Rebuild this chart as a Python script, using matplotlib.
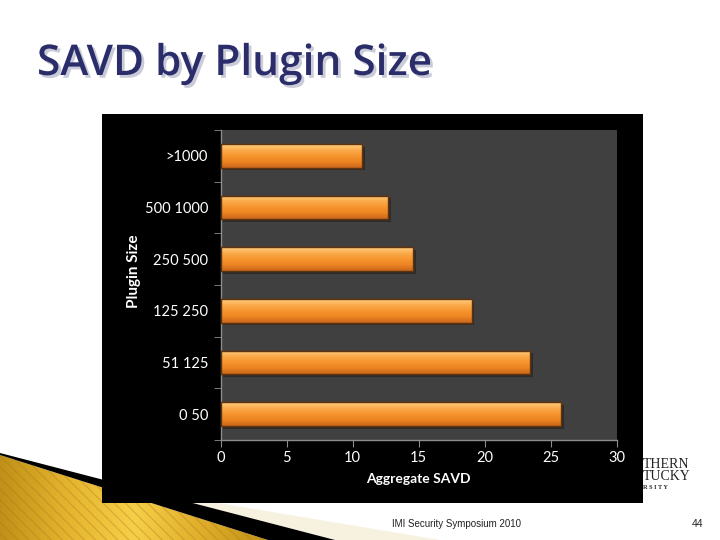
import matplotlib
matplotlib.use("Agg")
import matplotlib.pyplot as plt
import matplotlib.patheffects as pe
import numpy as np
from matplotlib.colors import LinearSegmentedColormap
from matplotlib.patches import Polygon

W, H = 720, 540

TITLE = "SAVD by Plugin Size"
CATEGORIES = ["0 50", "51 125", "125 250", "250 500", "500 1000", ">1000"]
SAVD = [25.8, 23.4, 19.0, 14.6, 12.7, 10.7]
X_TICKS = [0, 5, 10, 15, 20, 25, 30]
LOGO_LINES = ["THERN", "TUCKY", "RSITY"]
FOOTER = "IMI Security Symposium 2010"
PAGE = "44"


def fig_box(x0, y0, x1, y1):
    # pixel box (top-left origin) -> figure fraction rect
    return [x0 / W, 1 - y1 / H, (x1 - x0) / W, (y1 - y0) / H]


fig = plt.figure(figsize=(W / 100, H / 100), dpi=100)
fig.patch.set_facecolor("white")

# slide decoration layer
deco = fig.add_axes([0, 0, 1, 1], zorder=0)
deco.set_xlim(0, W)
deco.set_ylim(H, 0)
deco.axis("off")

gold_cmap = LinearSegmentedColormap.from_list(
    "gold", ["#c09018", "#e5b42e", "#f7cf48", "#e0ae2a", "#c29218"])
grad = np.linspace(0, 1, 256).reshape(1, -1)
gold_poly = Polygon([(0, 455), (268, 540), (0, 540)], closed=True,
                    facecolor="none", edgecolor="none")
deco.add_patch(gold_poly)
im = deco.imshow(grad, cmap=gold_cmap, extent=(0, 268, 540, 455), aspect="auto")
im.set_clip_path(gold_poly)
deco.add_patch(Polygon([(0, 455), (268, 540), (0, 540)], closed=True,
                       facecolor="none", edgecolor="#a07818", hatch="\\\\\\",
                       linewidth=0, alpha=0.3))
deco.add_patch(Polygon([(200, 500), (440, 540), (335, 540), (190, 503)],
                       closed=True, facecolor="#f3e8cc", edgecolor="none", alpha=0.6))
deco.add_patch(Polygon([(0, 453), (335, 540), (268, 540), (0, 455)],
                       closed=True, facecolor="black", edgecolor="none"))
deco.set_ylim(H, 0)
deco.set_xlim(0, W)

# title with soft shadow
deco.text(37, 75, TITLE, fontsize=30.5, color="#2b2d6b", family="Open Sans",
          fontweight="semibold", va="baseline", ha="left",
          path_effects=[pe.SimplePatchShadow(offset=(2, -2), shadow_rgbFace="#c9cbd8", alpha=1.0),
                        pe.Normal()])

# visible part of the university logo (the rest sits behind the chart)
deco.text(643, 468, LOGO_LINES[0], fontsize=10, family="Liberation Serif",
          color="#222222", ha="left", va="baseline")
deco.text(643, 480, LOGO_LINES[1], fontsize=10, family="Liberation Serif",
          color="#222222", ha="left", va="baseline")
deco.text(643, 489, " ".join(LOGO_LINES[2]), fontsize=4.5, family="Liberation Serif",
          fontweight="bold", color="#222222", ha="left", va="baseline")

deco.text(457, 527, FOOTER, fontsize=7, family="Liberation Sans",
          color="#222222", ha="center", va="baseline")
deco.text(703, 527, PAGE, fontsize=7.5, family="Liberation Sans",
          color="#222222", ha="right", va="baseline")

# black chart background
frame = fig.add_axes(fig_box(102, 114, 643, 503), zorder=1)
frame.set_facecolor("black")
frame.set_xticks([])
frame.set_yticks([])
for s in frame.spines.values():
    s.set_visible(False)

# plot area
ax = fig.add_axes(fig_box(220.5, 130, 617, 440), zorder=2)
ax.set_facecolor("#404040")
ypos = np.arange(len(CATEGORIES))
bars = ax.barh(ypos, SAVD, height=0.46, color="#f39029", edgecolor="#5e3410",
               linewidth=1.0, zorder=3,
               path_effects=[pe.SimplePatchShadow(offset=(2, -2), shadow_rgbFace="#262626", alpha=0.8),
                             pe.Normal()])

bar_cmap = LinearSegmentedColormap.from_list(
    "barfill", ["#c9661a", "#ec8422", "#f6952e", "#fbab4c", "#ffd080"])
vgrad = np.linspace(0, 1, 64).reshape(-1, 1)
for b in bars:
    x0, y0 = b.get_x(), b.get_y()
    gim = ax.imshow(vgrad, cmap=bar_cmap, origin="lower", aspect="auto",
                    extent=(x0, x0 + b.get_width(), y0, y0 + b.get_height()), zorder=3.5)
    gim.set_clip_path(b)
    ax.barh(b.get_y() + b.get_height() / 2, b.get_width(), height=b.get_height(),
            color="none", edgecolor="#5e3410", linewidth=1.0, zorder=4)

ax.set_xlim(0, 30)
ax.set_ylim(-0.5, len(CATEGORIES) - 0.5)
ax.set_xticks(X_TICKS)
ax.set_xticklabels([str(t) for t in X_TICKS])
ax.set_yticks(ypos)
ax.set_yticklabels(CATEGORIES)
ax.set_yticks(np.arange(-0.5, len(CATEGORIES)), minor=True)

for name in ("top", "right"):
    ax.spines[name].set_visible(False)
for name in ("left", "bottom"):
    ax.spines[name].set_color("#8c8c8c")
    ax.spines[name].set_linewidth(1.0)

ax.tick_params(axis="y", which="major", length=0, pad=9, colors="white", labelsize=10.5)
ax.tick_params(axis="y", which="minor", length=5, color="#8c8c8c", direction="out")
ax.tick_params(axis="x", length=5, color="#8c8c8c", direction="out", pad=3,
               labelcolor="white", labelsize=10.5)
for lab in ax.get_xticklabels() + ax.get_yticklabels():
    lab.set_family("Lato")

ax.set_xlabel("Aggregate SAVD", color="white", fontsize=10, fontweight="bold",
              family="Lato")
ax.xaxis.set_label_coords(0.5, -0.105)
ax.set_ylabel("Plugin Size", color="white", fontsize=11, fontweight="bold",
              family="Lato")
ax.yaxis.set_label_coords(-0.200, 0.545)

fig.savefig("out.png", dpi=100)
